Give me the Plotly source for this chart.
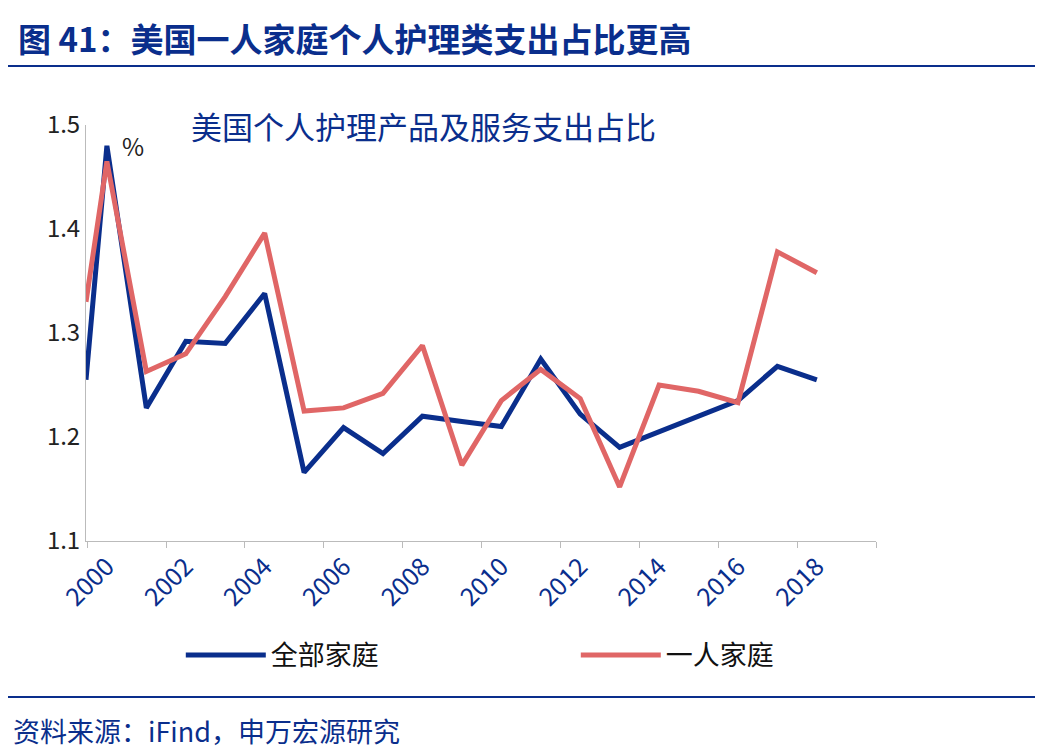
import plotly.graph_objects as go

# years (first point sits on the y-axis edge)
years = [1999.47, 2000, 2001, 2002, 2003, 2004, 2005, 2006, 2007, 2008, 2009,
         2010, 2011, 2012, 2013, 2014, 2015, 2016, 2017, 2018]
all_households = [1.255, 1.48, 1.228, 1.292, 1.29, 1.338, 1.166, 1.209, 1.184, 1.22, 1.215,
                  1.21, 1.275, 1.222, 1.19, 1.205, 1.22, 1.235, 1.268, 1.255]
single_households = [1.33, 1.465, 1.263, 1.28, 1.335, 1.396, 1.225, 1.228, 1.242, 1.288, 1.173,
                     1.235, 1.265, 1.237, 1.152, 1.25, 1.244, 1.233, 1.378, 1.358]
tick_years = list(range(2000, 2019, 2))

BLUE = "#0a2e8c"
RED = "#e06666"
FONT = "Noto Sans CJK SC"

fig = go.Figure()
fig.add_trace(go.Scatter(x=years, y=all_households, name="全部家庭", mode="lines",
                         line=dict(color=BLUE, width=5)))
fig.add_trace(go.Scatter(x=years, y=single_households, name="一人家庭", mode="lines",
                         line=dict(color=RED, width=5)))

fig.update_layout(
    width=1043, height=754,
    paper_bgcolor="white", plot_bgcolor="white",
    margin=dict(l=78, r=175, t=117, b=221, pad=0),
    font=dict(family=FONT, color="#222", size=22),
    showlegend=True,
    legend=dict(orientation="h", x=0.12, xanchor="left", y=-0.275, yanchor="middle",
                font=dict(size=27, color="#111"), itemwidth=80,
                entrywidth=300, entrywidthmode="pixels"),
    xaxis=dict(range=[1999.47, 2019.5], tickvals=tick_years, ticktext=[str(y) for y in tick_years],
               tickangle=-45, showgrid=False, zeroline=False, showline=True, automargin=False,
               linecolor="#bbb", linewidth=1, ticks="", tickfont=dict(size=25, color=BLUE),
               minor=dict(tick0=1999.5, dtick=2, ticks="outside", ticklen=6, tickcolor="#bbb")),
    yaxis=dict(range=[1.1, 1.5], dtick=0.1, tickformat=".1f", showgrid=False, zeroline=False,
               showline=True, linecolor="#bbb", linewidth=1, ticks="", automargin=False,
               tickfont=dict(size=24, color="#222")),
    shapes=[
        dict(type="line", xref="paper", yref="paper", x0=-0.1, x1=1.22, y0=1.142, y1=1.142,
             line=dict(color=BLUE, width=2)),
        dict(type="line", xref="paper", yref="paper", x0=-0.1, x1=1.22, y0=-0.375, y1=-0.375,
             line=dict(color=BLUE, width=2)),
    ],
    annotations=[
        dict(text="<b>图 41：美国一人家庭个人护理类支出占比更高</b>", xref="paper", yref="paper",
             x=-0.089, y=1.209, xanchor="left", yanchor="middle", showarrow=False,
             font=dict(size=33, color=BLUE)),
        dict(text="美国个人护理产品及服务支出占比", xref="paper", yref="paper",
             x=0.13, y=1.0, xanchor="left", yanchor="middle", showarrow=False,
             font=dict(size=31, color=BLUE)),
        dict(text="%", xref="paper", yref="paper", x=0.06, y=0.95, xanchor="center",
             yanchor="middle", showarrow=False, font=dict(size=24, color="#222")),
        dict(text="资料来源：iFind，申万宏源研究", xref="paper", yref="paper",
             x=-0.095, y=-0.455, xanchor="left", yanchor="middle", showarrow=False,
             font=dict(size=27, color=BLUE)),
    ],
)

fig.write_html("out.html")
